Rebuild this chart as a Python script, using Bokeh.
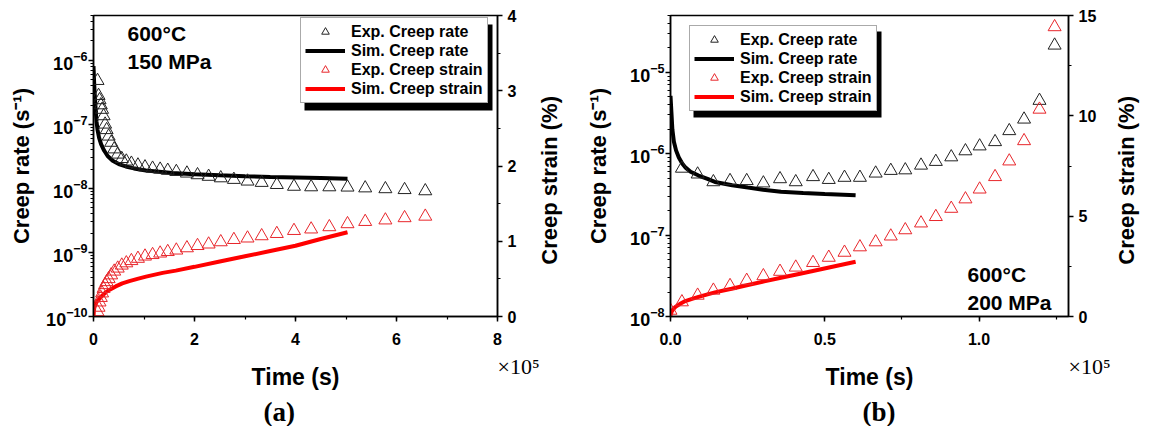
import math
from bokeh.plotting import figure
from bokeh.models import (LinearAxis, LinearScale, Range1d, Legend, LegendItem, Label, Title,
                          BoxAnnotation, CustomJSTickFormatter, SingleIntervalTicker, LogTicker,
                          FixedTicker)
from bokeh.layouts import row
from bokeh.embed import file_html
from bokeh.resources import INLINE

SCALE = 1e5  # time values below are in units of 10^5 s

# ---------------- panel (a): 600 C, 150 MPa ----------------
a_exp_t = [0.08, 0.10, 0.12, 0.145, 0.17, 0.20, 0.23, 0.26, 0.30, 0.35, 0.41, 0.48, 0.56,
           0.65, 0.75, 0.88, 1.02, 1.17, 1.32, 1.47, 1.64, 1.85, 2.06, 2.28, 2.52, 2.78,
           3.05, 3.33, 3.63, 3.97, 4.31, 4.67, 5.03, 5.38, 5.78, 6.16, 6.57]
a_exp_rate = [4.8e-7, 2.8e-7, 2.4e-7, 2.0e-7, 1.7e-7, 1.35e-7, 1.0e-7, 8.2e-8, 6.5e-8, 5.2e-8,
              4.1e-8, 3.4e-8, 2.9e-8, 2.65e-8, 2.45e-8, 2.3e-8, 2.15e-8, 2.05e-8, 1.98e-8,
              1.9e-8, 1.82e-8, 1.72e-8, 1.62e-8, 1.53e-8, 1.45e-8, 1.37e-8, 1.29e-8, 1.23e-8,
              1.14e-8, 1.07e-8, 1.05e-8, 1.05e-8, 1.04e-8, 1.01e-8, 9.8e-9, 9.5e-9, 9.1e-9]
a_exp_strain = [0.06, 0.12, 0.19, 0.25, 0.31, 0.37, 0.42, 0.46, 0.50, 0.55, 0.60, 0.64, 0.68,
                0.71, 0.74, 0.77, 0.80, 0.82, 0.84, 0.86, 0.88, 0.91, 0.94, 0.96, 0.99, 1.02,
                1.04, 1.07, 1.10, 1.14, 1.16, 1.19, 1.23, 1.26, 1.28, 1.31, 1.33]
a_sim_rate_t = [0.0, 0.01, 0.02, 0.03, 0.045, 0.06, 0.08, 0.11, 0.15, 0.21, 0.28, 0.38, 0.5,
                0.64, 0.8, 1.04, 1.3, 1.56, 2.0, 2.5, 3.0, 3.5, 4.0, 4.5, 5.03]
a_sim_rate = [8.1e-7, 5.0e-7, 3.4e-7, 2.5e-7, 1.6e-7, 1.1e-7, 8.2e-8, 6.2e-8, 4.9e-8, 3.9e-8,
              3.2e-8, 2.7e-8, 2.4e-8, 2.2e-8, 2.05e-8, 1.9e-8, 1.82e-8, 1.74e-8, 1.66e-8,
              1.6e-8, 1.55e-8, 1.51e-8, 1.48e-8, 1.45e-8, 1.42e-8]
a_sim_strain_t = [0.0, 0.005, 0.01, 0.02, 0.04, 0.07, 0.11, 0.16, 0.24, 0.33, 0.44, 0.57,
                  0.71, 0.87, 1.04, 1.37, 1.63, 2.0, 2.5, 3.0, 3.5, 4.0, 4.5, 5.03]
a_sim_strain = [0.0, 0.05, 0.09, 0.13, 0.17, 0.20, 0.23, 0.27, 0.32, 0.36, 0.40, 0.44, 0.47,
                0.50, 0.53, 0.58, 0.61, 0.66, 0.73, 0.80, 0.87, 0.94, 1.03, 1.12]

# ---------------- panel (b): 600 C, 200 MPa ----------------
b_exp_rate_t = [0.037, 0.088, 0.139, 0.193, 0.247, 0.301, 0.355, 0.406, 0.462, 0.513, 0.564,
                0.614, 0.665, 0.714, 0.761, 0.812, 0.860, 0.910, 0.956, 1.002, 1.052, 1.098,
                1.146, 1.196, 1.245]
b_exp_rate = [6.6e-7, 5.6e-7, 4.5e-7, 4.65e-7, 4.65e-7, 4.35e-7, 4.9e-7, 4.5e-7, 5.2e-7, 4.8e-7,
              5.1e-7, 5.1e-7, 5.75e-7, 6.2e-7, 6.3e-7, 7.2e-7, 8.0e-7, 9.1e-7, 1.08e-6, 1.24e-6,
              1.40e-6, 1.91e-6, 2.65e-6, 4.5e-6, 2.15e-5]
b_exp_strain_t = [0.0, 0.037, 0.088, 0.139, 0.193, 0.247, 0.301, 0.355, 0.406, 0.462, 0.513,
                  0.564, 0.614, 0.665, 0.714, 0.761, 0.812, 0.860, 0.910, 0.956, 1.002, 1.052,
                  1.098, 1.146, 1.196, 1.245]
b_exp_strain = [0.3, 0.72, 1.05, 1.30, 1.53, 1.79, 2.02, 2.24, 2.45, 2.68, 2.94, 3.19, 3.46,
                3.71, 4.0, 4.31, 4.65, 4.97, 5.38, 5.85, 6.34, 6.96, 7.74, 8.75, 10.32, 14.43]
b_sim_rate_t = [0.0, 0.003, 0.006, 0.011, 0.018, 0.027, 0.038, 0.048, 0.065, 0.091, 0.12,
                0.144, 0.2, 0.251, 0.3, 0.358, 0.43, 0.5, 0.6]
b_sim_rate = [5.15e-6, 3.2e-6, 2.0e-6, 1.4e-6, 1.1e-6, 9.0e-7, 7.6e-7, 6.8e-7, 6.0e-7, 5.4e-7,
              4.9e-7, 4.5e-7, 4.1e-7, 3.84e-7, 3.62e-7, 3.42e-7, 3.3e-7, 3.2e-7, 3.1e-7]
b_sim_strain_t = [0.0, 0.004, 0.01, 0.016, 0.03, 0.048, 0.07, 0.091, 0.12, 0.144, 0.198,
                  0.251, 0.304, 0.358, 0.42, 0.48, 0.54, 0.6]
b_sim_strain = [0.05, 0.25, 0.38, 0.48, 0.62, 0.77, 0.88, 0.98, 1.10, 1.20, 1.38, 1.57, 1.75,
                1.93, 2.13, 2.33, 2.53, 2.73]

legend_labels = ["Exp. Creep rate", "Sim. Creep rate", "Exp. Creep strain", "Sim. Creep strain"]
x_label = "Time (s)"
rate_label = "Creep rate (s\u207b\u00b9)"
strain_label = "Creep strain (%)"
multiplier = "\u00d710\u2075"

SANS = "Liberation Sans"
SERIF = "Liberation Serif"
RED_LINE = "#ff0000"
RED_MARK = "#e8262b"
BLACK_MARK = "#222222"


def sec(vals):
    return [v * SCALE for v in vals]


def style_axis(ax):
    ax.axis_line_color = "black"
    ax.axis_line_width = 1.5
    ax.major_tick_line_color = "black"
    ax.major_tick_line_width = 1.5
    ax.major_tick_in = 0
    ax.major_tick_out = 5
    ax.minor_tick_line_color = "black"
    ax.minor_tick_line_width = 1.2
    ax.minor_tick_in = 0
    ax.minor_tick_out = 3
    ax.major_label_text_font = SANS
    ax.major_label_text_font_style = "bold"
    ax.major_label_text_font_size = "16px"
    ax.major_label_text_color = "black"
    ax.axis_label_text_font = SANS
    ax.axis_label_text_font_style = "bold"
    ax.axis_label_text_font_size = "22px"
    ax.axis_label_text_color = "black"


def text_only_axis(ax):
    ax.axis_line_color = None
    ax.major_tick_line_color = None
    ax.minor_tick_line_color = None
    ax.major_tick_in = 0
    ax.major_tick_out = 0
    ax.minor_tick_in = 0
    ax.minor_tick_out = 0
    ax.major_label_text_color = "black"


def make_panel(width, mb_left, mb_right, xmax, ymin, ymax, smax, x_int, s_int, x_fmt,
               exp_rate_t, exp_rate, sim_rate_t, sim_rate,
               exp_strain_t, exp_strain, sim_strain_t, sim_strain,
               legend_xy, shadow_box, cond_text, cond_xy, letter, letter_offset,
               lab_stand_left, strain_lab_pos, strain_lab_stand):
    p = figure(width=width, height=426, x_axis_type="linear", y_axis_type="log",
               x_range=Range1d(0, xmax), y_range=Range1d(ymin, ymax),
               output_backend="svg", toolbar_location=None,
               min_border_left=mb_left, min_border_right=mb_right,
               min_border_top=15, min_border_bottom=103)
    p.extra_y_ranges = {"strain": Range1d(0, smax)}
    p.extra_y_scales = {"strain": LinearScale()}
    p.xgrid.visible = False
    p.ygrid.visible = False
    p.outline_line_color = "black"
    p.outline_line_width = 1.5
    p.background_fill_color = "white"
    p.border_fill_color = "white"

    # bottom time axis
    xa = p.xaxis[0]
    xa.ticker = SingleIntervalTicker(interval=x_int, num_minor_ticks=2)
    xa.formatter = CustomJSTickFormatter(code=x_fmt)
    xa.axis_label = x_label
    style_axis(xa)
    xa.axis_label_text_font_size = "23px"
    xa.major_label_standoff = 11
    xa.axis_label_standoff = 16

    # "x10^5" multiplier shown at the right end of the time axis
    mx = LinearAxis(ticker=FixedTicker(ticks=[xmax], minor_ticks=[]),
                    formatter=CustomJSTickFormatter(code="return '%s';" % multiplier))
    text_only_axis(mx)
    mx.major_label_orientation = -1e-6
    mx.major_label_standoff = -26
    mx.major_label_text_font = SERIF
    mx.major_label_text_font_size = "22px"
    p.add_layout(mx, "below")

    # left log axis
    ya = p.yaxis[0]
    ya.ticker = LogTicker(desired_num_ticks=8, num_minor_ticks=10)
    ya.axis_label = rate_label
    style_axis(ya)
    ya.major_label_text_font_size = "18px"
    ya.major_label_standoff = 1
    ya.axis_label_standoff = lab_stand_left

    # right strain axis
    ra = LinearAxis(y_range_name="strain",
                    ticker=SingleIntervalTicker(interval=s_int, num_minor_ticks=2))
    style_axis(ra)
    ra.major_label_standoff = 5
    p.add_layout(ra, "right")

    # strain axis title, reading bottom-to-top
    sa = LinearAxis(y_range_name="strain",
                    ticker=FixedTicker(ticks=[strain_lab_pos], minor_ticks=[]),
                    formatter=CustomJSTickFormatter(code="return '%s';" % strain_label))
    text_only_axis(sa)
    sa.major_label_orientation = math.pi / 2
    sa.major_label_standoff = strain_lab_stand
    sa.major_label_text_font = SANS
    sa.major_label_text_font_style = "bold"
    sa.major_label_text_font_size = "22px"
    p.add_layout(sa, "right")

    r_sr = p.line(sec(sim_rate_t), sim_rate, line_color="black", line_width=4)
    r_ss = p.line(sec(sim_strain_t), sim_strain, line_color=RED_LINE, line_width=4,
                  y_range_name="strain")
    r_er = p.scatter(sec(exp_rate_t), exp_rate, marker="triangle", size=13,
                     fill_color=None, line_color=BLACK_MARK, line_width=1)
    r_es = p.scatter(sec(exp_strain_t), exp_strain, marker="triangle", size=13,
                     fill_color=None, line_color=RED_MARK, line_width=1,
                     y_range_name="strain")

    # legend drop shadow
    l, t, r, b = shadow_box
    p.add_layout(BoxAnnotation(left=l, right=r, top=t, bottom=b,
                               left_units="canvas", right_units="canvas",
                               top_units="canvas", bottom_units="canvas",
                               fill_color="black", fill_alpha=1.0, line_color=None))

    legend = Legend(items=[LegendItem(label=legend_labels[0], renderers=[r_er]),
                           LegendItem(label=legend_labels[1], renderers=[r_sr]),
                           LegendItem(label=legend_labels[2], renderers=[r_es]),
                           LegendItem(label=legend_labels[3], renderers=[r_ss])],
                    location=legend_xy)
    legend.label_text_font = SANS
    legend.label_text_font_style = "bold"
    legend.label_text_font_size = "16px"
    legend.label_text_color = "black"
    legend.glyph_width = 40
    legend.glyph_height = 19
    legend.label_height = 19
    legend.label_standoff = 6
    legend.spacing = 0
    legend.padding = 4
    legend.margin = 0
    legend.border_line_color = "#555555"
    legend.border_line_width = 1
    legend.background_fill_color = "white"
    legend.background_fill_alpha = 1.0
    p.add_layout(legend, "center")

    p.add_layout(Label(x=cond_xy[0], y=cond_xy[1], x_units="canvas", y_units="canvas",
                       text=cond_text, text_font=SANS, text_font_style="bold",
                       text_font_size="21px", text_color="black", text_baseline="top",
                       text_line_height=1.25))
    p.add_layout(Title(text=letter, align="left", offset=letter_offset, standoff=0,
                       text_font=SERIF, text_font_style="bold", text_font_size="27px",
                       text_color="black"), "below")
    return p


pa = make_panel(577, 93, 80, 8 * SCALE, 1e-10, 5e-6, 4, 2 * SCALE, 1,
                "return (tick/1e5).toFixed(0);",
                a_exp_t, a_exp_rate, a_sim_rate_t, a_sim_rate,
                a_exp_t, a_exp_strain, a_sim_strain_t, a_sim_strain,
                (207, 213), (304, 24, 492, 110),
                "600\u00b0C\n150 MPa", (127, 21), "(a)", 170, 9, 0.688, 30)

pb = make_panel(577, 93, 81, 1.29 * SCALE, 1e-8, 5e-5, 15, 0.5 * SCALE, 5,
                "return (tick/1e5).toFixed(1);",
                b_exp_rate_t, b_exp_rate, b_sim_rate_t, b_sim_rate,
                b_exp_strain_t, b_exp_strain, b_sim_strain_t, b_sim_strain,
                (19, 205), (116, 31, 304, 117),
                "600\u00b0C\n200 MPa", (390, 262), "(b)", 192, 16, 2.58, 27)

layout = row(pa, pb)
with open("out.html", "w", encoding="utf-8") as f:
    f.write(file_html(layout, INLINE))
